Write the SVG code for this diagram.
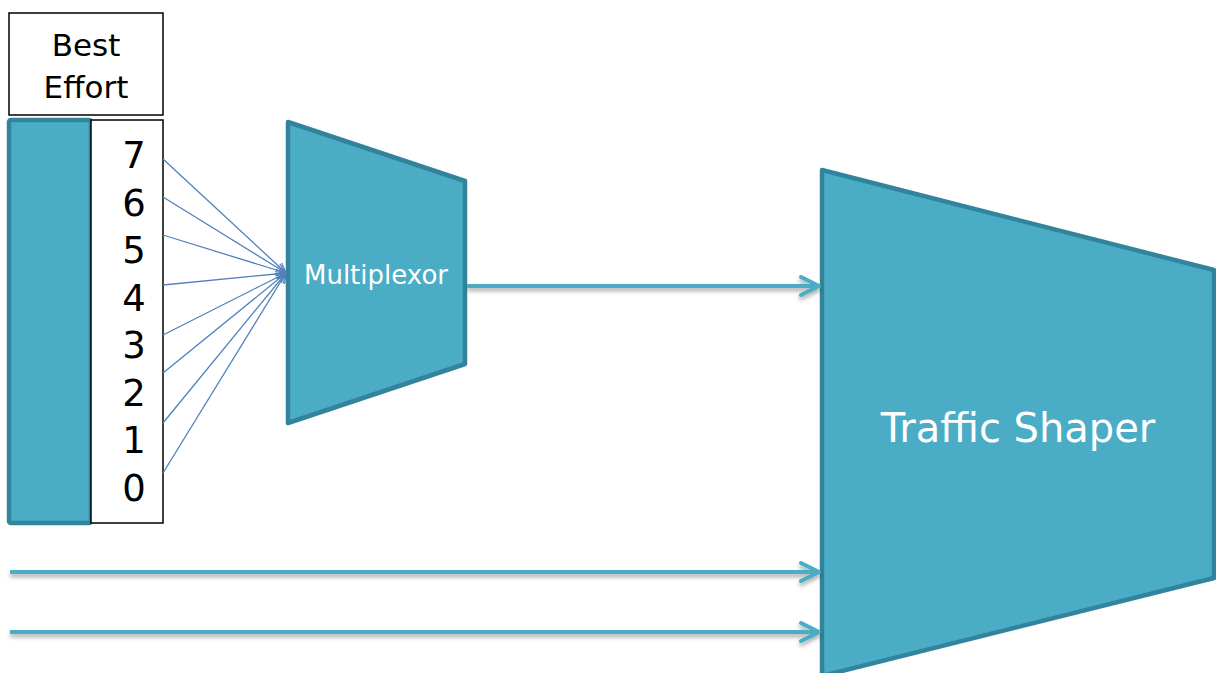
<svg xmlns="http://www.w3.org/2000/svg" width="1216" height="673" viewBox="0 0 1216 673">
  <style>
    .box { fill: #ffffff; stroke: #000000; stroke-width: 1.5; }
    .teal { fill: #4BACC6; stroke: #31849B; stroke-width: 4.5; stroke-linejoin: round; }
    .lbl { font-family: "DejaVu Sans", "Liberation Sans", sans-serif; fill: #000000; text-anchor: middle; }
    .wlbl { font-family: "DejaVu Sans", "Liberation Sans", sans-serif; fill: #ffffff; text-anchor: middle; }
    .thin { stroke: #4F81BD; stroke-width: 1.3; fill: none; marker-end: url(#thinHead); }
    .thick { stroke: #4BACC6; stroke-width: 4; fill: none; marker-end: url(#thickHead); filter: url(#shadow); }
  </style>
  <defs>
    <marker id="thinHead" markerUnits="userSpaceOnUse" viewBox="0 0 12 12" refX="11" refY="6" markerWidth="12" markerHeight="12" orient="auto">
      <path d="M1,1.5 L11,6 L1,10.5" fill="none" stroke="#4F81BD" stroke-width="1.2"/>
    </marker>
    <marker id="thickHead" markerUnits="userSpaceOnUse" viewBox="0 0 24 24" refX="21" refY="12" markerWidth="24" markerHeight="24" orient="auto">
      <path d="M3,3 L21,12 L3,21" fill="none" stroke="#4BACC6" stroke-width="4" stroke-linecap="round" stroke-linejoin="round"/>
    </marker>
    <filter id="shadow" filterUnits="userSpaceOnUse" x="0" y="0" width="1216" height="673">
      <feDropShadow dx="0" dy="3" stdDeviation="2" flood-color="#000000" flood-opacity="0.35"/>
    </filter>
  </defs>

  <!-- Best Effort queue -->
  <g id="best-effort-label">
    <rect class="box" x="9" y="13" width="154" height="102"/>
    <text class="lbl" x="86" y="56" font-size="31">Best</text>
    <text class="lbl" x="86" y="98" font-size="31">Effort</text>
  </g>
  <g id="queue-bar">
    <rect class="teal" x="9" y="120" width="82" height="403" rx="2"/>
  </g>
  <g id="priority-list">
    <rect class="box" x="91" y="120" width="72" height="403"/>
    <text class="lbl" x="134" y="168" font-size="37">7</text>
    <text class="lbl" x="134" y="216" font-size="37">6</text>
    <text class="lbl" x="134" y="263" font-size="37">5</text>
    <text class="lbl" x="134" y="311" font-size="37">4</text>
    <text class="lbl" x="134" y="358" font-size="37">3</text>
    <text class="lbl" x="134" y="406" font-size="37">2</text>
    <text class="lbl" x="134" y="453" font-size="37">1</text>
    <text class="lbl" x="134" y="501" font-size="37">0</text>
  </g>

  <!-- Multiplexor -->
  <g id="multiplexor">
    <polygon class="teal" points="288,122 465,181 465,364 288,423"/>
    <text class="wlbl" x="376" y="284" font-size="26">Multiplexor</text>
  </g>

  <!-- Traffic Shaper -->
  <g id="traffic-shaper">
    <polygon class="teal" points="822,170 1214,270 1214,578 822,676"/>
    <text class="wlbl" x="1018" y="442" font-size="40">Traffic Shaper</text>
  </g>

  <!-- Connectors -->
  <g id="connectors">
    <line class="thin" x1="163" y1="159" x2="286" y2="273"/>
    <line class="thin" x1="163" y1="197" x2="286" y2="273"/>
    <line class="thin" x1="163" y1="235" x2="286" y2="273"/>
    <line class="thin" x1="163" y1="285" x2="286" y2="273"/>
    <line class="thin" x1="163" y1="335" x2="286" y2="273"/>
    <line class="thin" x1="163" y1="373" x2="286" y2="273"/>
    <line class="thin" x1="163" y1="423" x2="286" y2="273"/>
    <line class="thin" x1="163" y1="473" x2="286" y2="273"/>
    <line class="thick" x1="467" y1="286" x2="819" y2="286"/>
    <line class="thick" x1="10" y1="572" x2="819" y2="572"/>
    <line class="thick" x1="10" y1="632" x2="819" y2="632"/>
  </g>
</svg>
